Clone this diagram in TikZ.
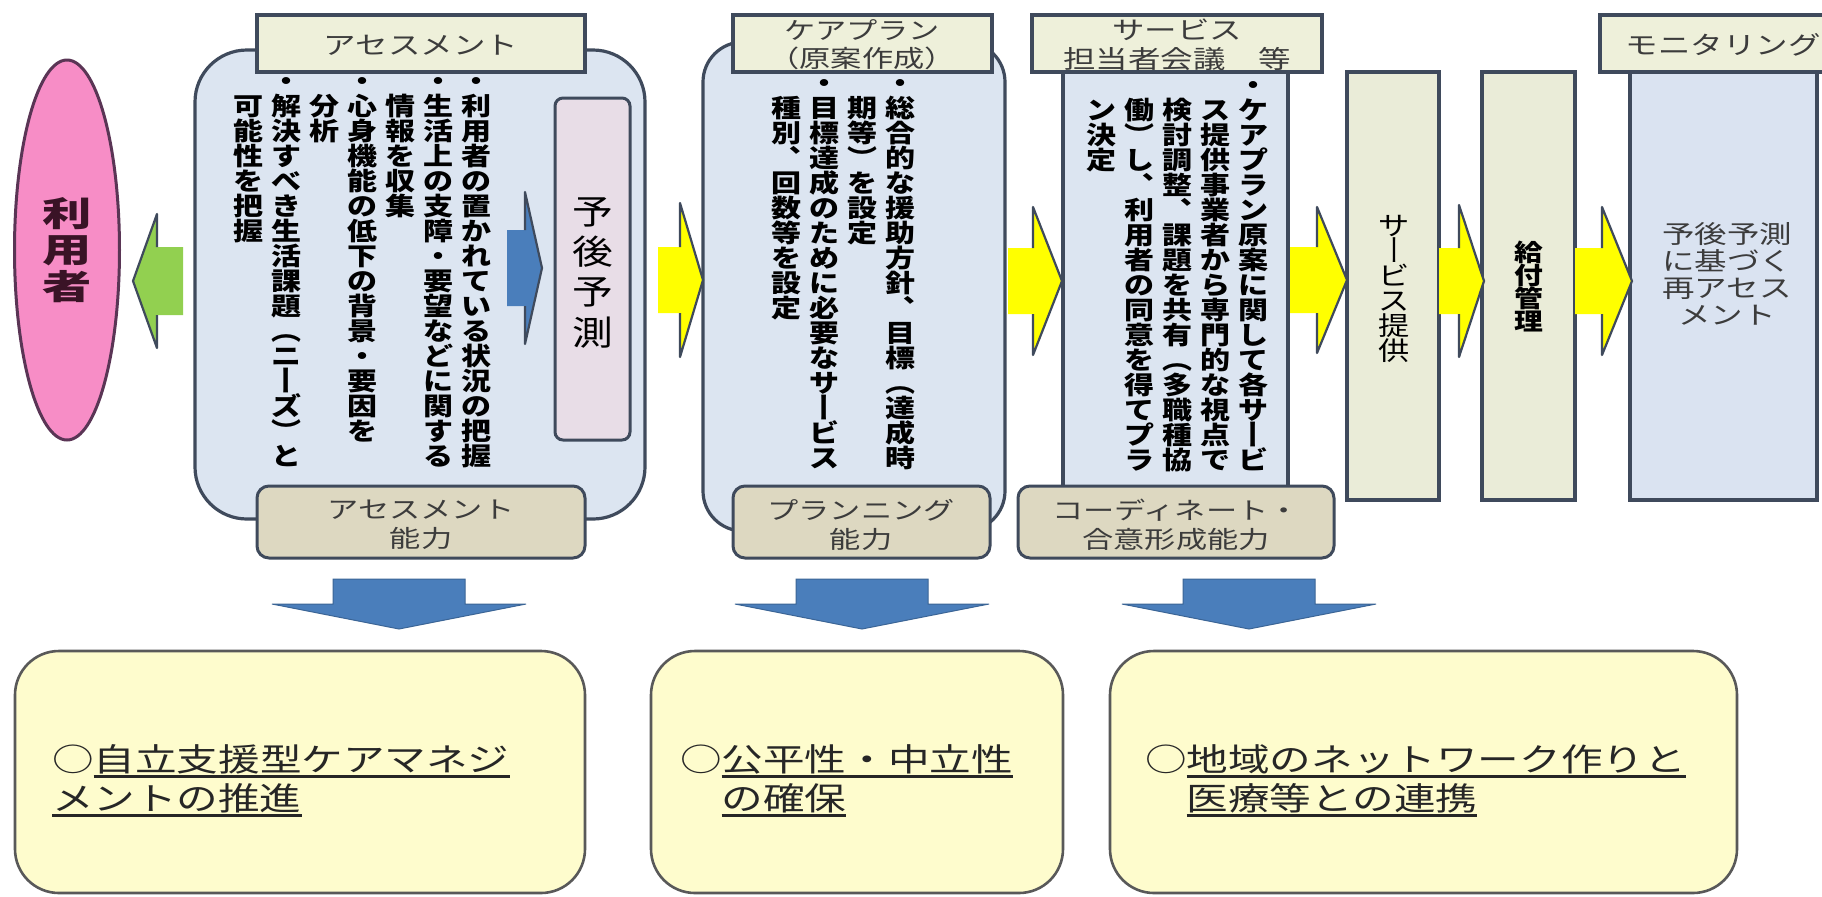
\documentclass[tikz,border=0pt]{standalone}
\usepackage{fontspec}
\usepackage{graphicx}
\usetikzlibrary{fit,shapes.geometric}
\newfontfamily\jpv[FakeStretch=1.2]{Noto Sans CJK JP}
\newfontfamily\jph[FakeStretch=1.3]{Noto Sans CJK JP}
\newfontfamily\jpw[FakeStretch=1.45]{Noto Sans CJK JP}

\definecolor{bd}{HTML}{3F4A5C}
\definecolor{boxblue}{HTML}{DCE5F1}
\definecolor{hdrfill}{HTML}{EEF0DA}
\definecolor{predfill}{HTML}{E8DDE7}
\definecolor{abilfill}{HTML}{DDD8C1}
\definecolor{creamfill}{HTML}{EAECD8}
\definecolor{monfill}{HTML}{DAE3F1}
\definecolor{pinkfill}{HTML}{F78DC6}
\definecolor{ellbd}{HTML}{5A3555}
\definecolor{greenA}{HTML}{92D050}
\definecolor{yellowA}{HTML}{FFFF00}
\definecolor{blueA}{HTML}{4A7EBB}
\definecolor{botfill}{HTML}{FEFCCD}
\definecolor{botbd}{HTML}{595959}
\definecolor{txtgray}{HTML}{3C3C3C}
\definecolor{usertxt}{HTML}{3A1326}

\newcommand\vtstrut{\vrule width 0pt height .88em depth .12em\relax}
\ExplSyntaxOn
\NewDocumentCommand \vtglyph { m }
  {
    \str_case:nnF {#1}
      {
        {ー} { \rotatebox[origin=c]{-90}{\hbox{\vtstrut ー}} }
        {（} { \hbox{\vtstrut ︵} }
        {）} { \hbox{\vtstrut ︶} }
        {、} { \hbox{\vtstrut ︑} }
      }
      { \hbox{\vtstrut #1} }
  }
\NewDocumentCommand \vcol { O{1} m }
  {
    \vbox
      {
        \offinterlineskip
        \tl_map_inline:nn {#2}
          {
            \vbox to #1em
              {
                \vss
                \hbox to 1.45em { \hss \vtglyph {##1} \hss }
                \vss
              }
          }
      }
  }
\ExplSyntaxOff

\newcommand\ulx[1]{\setbox0=\hbox{#1}\rlap{\rule[-3.4pt]{\wd0}{1.2pt}}\box0}

% block arrow: body start, head back, tip x, tip y, body half, head half, fill, edge
\newcommand\blockarrow[8]{%
  \fill[#7] (#1,#4-#5) -- (#2,#4-#5) -- (#2,#4-#6) -- (#3,#4) -- (#2,#4+#6) -- (#2,#4+#5) -- (#1,#4+#5) -- cycle;
  \draw[#8, line width=1.1pt, line join=round] (#2,#4-#5) -- (#2,#4-#6) -- (#3,#4) -- (#2,#4+#6) -- (#2,#4+#5);
}
\newcommand\downblock[1]{%
  \fill[blueA, draw=blueA!80!black, line width=.5pt] (#1-66,579) -- (#1+66,579) -- (#1+66,604) -- (#1+127,604) -- (#1,629) -- (#1-127,604) -- (#1-66,604) -- cycle;
}

\begin{document}
\begin{tikzpicture}[x=0.5pt,y=-0.5pt,
  every node/.style={inner sep=0pt, outer sep=0pt},
  bigbox/.style={draw=bd, line width=1.6pt, fill=boxblue, rounded corners=26pt},
  hdr/.style={draw=bd, line width=2pt, fill=hdrfill},
  sqbox/.style={draw=bd, line width=2pt},
  abil/.style={draw=bd, line width=1.5pt, fill=abilfill, rounded corners=6pt},
  botbox/.style={draw=botbd, line width=1.3pt, fill=botfill, rounded corners=22pt},
  hdrtxt/.style={font=\jph\fontsize{12.5pt}{14pt}\selectfont, text=txtgray, align=center},
  vt/.style={font=\jpv\bfseries\fontsize{12.5pt}{12.5pt}\selectfont, anchor=north, text=black},
  bottxt/.style={font=\jph\fontsize{16pt}{19.5pt}\selectfont, text=black!85, anchor=base west},
]
\useasboundingbox (0,0) rectangle (1822,896);
\fill[white] (0,0) rectangle (1822,896);
\clip (0,0) rectangle (1822,896);

% user ellipse
\node[ellipse, draw=ellbd, line width=1.5pt, fill=pinkfill, minimum width=52.5pt, minimum height=190pt,
      font=\jpw\bfseries\fontsize{17pt}{17pt}\selectfont, text=usertxt] (user) at (67,250) {\vcol[1.07]{利用者}};

% assessment
\node[bigbox, fit={(195,50) (645,519)}] (assess) {};
\node[hdr, fit={(257,15) (585,72)}] (hA) {};
\node[hdrtxt] (hAt) at (421,45) {アセスメント};
\node[vt] (a1) at (476,68) {\vcol{・利用者の置かれている状況の把握}};
\node[vt] (a2) at (438,68) {\vcol{・生活上の支障・要望などに関する}};
\node[vt] (a3) at (400,68) {\vcol{　情報を収集}};
\node[vt] (a4) at (362,68) {\vcol{・心身機能の低下の背景・要因を}};
\node[vt] (a5) at (324,68) {\vcol{　分析}};
\node[vt] (a6) at (286,68) {\vcol{・解決すべき生活課題（ニーズ）と}};
\node[vt] (a7) at (248,68) {\vcol{　可能性を把握}};
\node[draw=bd, line width=1.5pt, fill=predfill, rounded corners=4pt, fit={(555,98) (630,440)}] (pred) {};
\node[font=\jpv\fontsize{17pt}{17pt}\selectfont] (predt) at (593,272) {\vcol[1.18]{予後予測}};

% care plan
\node[bigbox, rounded corners=20pt, fit={(703,42) (1005,531)}] (care) {};
\node[hdr, fit={(733,15) (992,72)}] (hC) {};
\node[hdrtxt, font=\jph\fontsize{12pt}{14pt}\selectfont] (hCt) at (862,45) {ケアプラン\\（原案作成）};
\node[vt] (c1) at (900,70) {\vcol{・総合的な援助方針、目標（達成時}};
\node[vt] (c2) at (862,70) {\vcol{　期等）を設定}};
\node[vt] (c3) at (824,70) {\vcol{・目標達成のために必要なサービス}};
\node[vt] (c4) at (786,70) {\vcol{　種別、回数等を設定}};

% service meeting
\node[hdr, fit={(1032,15) (1322,72)}] (hS) {};
\node[hdrtxt, font=\jph\fontsize{12.5pt}{14.5pt}\selectfont] (hSt) at (1177,45) {サービス\\担当者会議　等};
\node[sqbox, fill=boxblue, fit={(1063,72) (1288,500)}] (svc) {};
\node[vt] (s1) at (1253,72) {\vcol{・ケアプラン原案に関して各サービ}};
\node[vt] (s2) at (1215,72) {\vcol{　ス提供事業者から専門的な視点で}};
\node[vt] (s3) at (1177,72) {\vcol{　検討調整、課題を共有（多職種協}};
\node[vt] (s4) at (1139,72) {\vcol{　働）し、利用者の同意を得てプラ}};
\node[vt] (s5) at (1101,72) {\vcol{　ン決定}};

% service provision, benefit management
\node[sqbox, fill=creamfill, fit={(1347,72) (1439,500)}] (prov) {};
\node[font=\jpv\fontsize{13pt}{13pt}\selectfont] (provt) at (1394,288) {\vcol[0.96]{サービス提供}};
\node[sqbox, fill=creamfill, fit={(1482,72) (1575,500)}] (kyufu) {};
\node[font=\jpv\bfseries\fontsize{12pt}{12pt}\selectfont] (kyufut) at (1529,287) {\vcol[0.96]{給付管理}};

% monitoring
\node[hdr, fit={(1600,15) (1850,72)}] (hM) {};
\node[hdrtxt] (hMt) at (1723,45) {モニタリング};
\node[sqbox, fill=monfill, fit={(1630,72) (1817,500)}] (mon) {};
\node[hdrtxt, font=\jph\fontsize{12.5pt}{13.5pt}\selectfont] (mont) at (1727,274) {予後予測\\に基づく\\再アセス\\メント};

% ability boxes
\node[abil, fit={(257,486) (585,558)}] (abA) {};
\node[hdrtxt, font=\jph\fontsize{12pt}{14.5pt}\selectfont] (abAt) at (421,525) {アセスメント\\能力};
\node[abil, fit={(733,486) (990,558)}] (abP) {};
\node[hdrtxt, font=\jph\fontsize{12pt}{14.5pt}\selectfont] (abPt) at (861,525) {プランニング\\能力};
\node[abil, fit={(1018,486) (1334,558)}] (abC) {};
\node[hdrtxt, font=\jph\fontsize{12pt}{14.5pt}\selectfont] (abCt) at (1176,525) {コーディネート・\\合意形成能力};

% horizontal block arrows
\blockarrow{183}{157}{133}{281}{34}{67}{greenA}{bd}
\blockarrow{507}{525}{542}{268}{38}{76}{blueA}{bd}
\blockarrow{658}{680}{703}{280}{33}{77}{yellowA}{bd}
\blockarrow{1008}{1033}{1062}{281}{33}{74}{yellowA}{bd}
\blockarrow{1290}{1317}{1347}{280}{33}{73}{yellowA}{bd}
\blockarrow{1439}{1459}{1484}{281}{33}{76}{yellowA}{bd}
\blockarrow{1575}{1602}{1632}{281}{33}{74}{yellowA}{bd}

% down arrows
\downblock{399}
\downblock{862}
\downblock{1249}

% bottom boxes
\node[botbox, fit={(15,651) (585,893)}] (bot1) {};
\node[botbox, fit={(651,651) (1063,893)}] (bot2) {};
\node[botbox, fit={(1110,651) (1737,893)}] (bot3) {};
\node[bottxt] (b1a) at (52,771) {○\ulx{自立支援型ケアマネジ}};
\node[bottxt] (b1b) at (52,810) {\ulx{メントの推進}};
\node[bottxt] (b2a) at (680,771) {○\ulx{公平性・中立性}};
\node[bottxt] (b2b) at (680,810) {　\ulx{の確保}};
\node[bottxt] (b3a) at (1145,771) {○\ulx{地域のネットワーク作りと}};
\node[bottxt] (b3b) at (1145,810) {　\ulx{医療等との連携}};
\end{tikzpicture}
\end{document}
